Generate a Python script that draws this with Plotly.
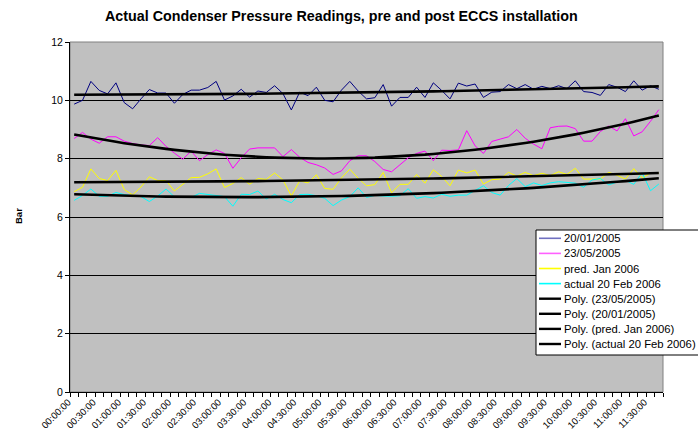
import numpy as np
import plotly.graph_objects as go

times = [
    "00:00:00", "00:10:00", "00:20:00", "00:30:00", "00:40:00", "00:50:00",
    "01:00:00", "01:10:00", "01:20:00", "01:30:00", "01:40:00", "01:50:00",
    "02:00:00", "02:10:00", "02:20:00", "02:30:00", "02:40:00", "02:50:00",
    "03:00:00", "03:10:00", "03:20:00", "03:30:00", "03:40:00", "03:50:00",
    "04:00:00", "04:10:00", "04:20:00", "04:30:00", "04:40:00", "04:50:00",
    "05:00:00", "05:10:00", "05:20:00", "05:30:00", "05:40:00", "05:50:00",
    "06:00:00", "06:10:00", "06:20:00", "06:30:00", "06:40:00", "06:50:00",
    "07:00:00", "07:10:00", "07:20:00", "07:30:00", "07:40:00", "07:50:00",
    "08:00:00", "08:10:00", "08:20:00", "08:30:00", "08:40:00", "08:50:00",
    "09:00:00", "09:10:00", "09:20:00", "09:30:00", "09:40:00", "09:50:00",
    "10:00:00", "10:10:00", "10:20:00", "10:30:00", "10:40:00", "10:50:00",
    "11:00:00", "11:10:00", "11:20:00", "11:30:00", "11:40:00",
]

jan2005 = [
    9.87, 10.0, 10.65, 10.34, 10.22, 10.6, 9.92, 9.71, 10.05, 10.37, 10.25, 10.25, 9.9, 10.2, 10.35,
    10.35, 10.44, 10.65, 10.01, 10.15, 10.38, 10.11, 10.32, 10.27, 10.5, 10.23, 9.67, 10.28, 10.16,
    10.45, 10.0, 9.95, 10.35, 10.65, 10.32, 10.05, 10.09, 10.54, 9.8, 10.1, 10.1, 10.45, 10.1,
    10.6, 10.34, 10.05, 10.59, 10.49, 10.56, 10.1, 10.28, 10.3, 10.54, 10.4, 10.54, 10.38, 10.48,
    10.4, 10.5, 10.4, 10.67, 10.3, 10.27, 10.17, 10.54, 10.45, 10.3, 10.67, 10.35, 10.5, 10.38,
]

may2005 = [
    8.69, 8.9, 8.67, 8.53, 8.75, 8.75, 8.6, 8.52, 8.47, 8.45, 8.72, 8.42, 8.19, 7.98, 8.26,
    7.93, 8.14, 8.3, 8.18, 7.67, 8.03, 8.33, 8.37, 8.37, 8.37, 8.07, 8.31, 8.05, 7.87,
    7.79, 7.68, 7.46, 7.58, 7.93, 8.1, 8.1, 7.9, 7.63, 7.55, 7.79, 8.03, 8.18, 8.26,
    7.93, 8.29, 8.28, 8.3, 8.96, 8.44, 8.18, 8.59, 8.67, 8.75, 9.0, 8.7, 8.5, 8.34,
    9.06, 9.11, 9.12, 9.03, 8.6, 8.6, 8.93, 9.12, 8.95, 9.37, 8.78, 8.92, 9.28, 9.68,
]

pred2006 = [
    6.87, 7.02, 7.65, 7.32, 7.25, 7.6, 6.94, 6.76, 7.03, 7.38, 7.25, 7.25, 6.89, 7.12, 7.35,
    7.36, 7.48, 7.65, 7.01, 7.15, 7.35, 7.12, 7.32, 7.29, 7.51, 7.27, 6.72, 7.24, 7.17,
    7.45, 6.98, 6.95, 7.34, 7.64, 7.33, 7.07, 7.11, 7.53, 6.83, 7.12, 7.12, 7.46, 7.16,
    7.62, 7.39, 7.07, 7.61, 7.51, 7.61, 7.13, 7.28, 7.3, 7.53, 7.4, 7.53, 7.42, 7.5,
    7.42, 7.55, 7.46, 7.67, 7.3, 7.3, 7.3, 7.53, 7.43, 7.3, 7.66, 7.34, 7.5, 7.5,
]

feb2006 = [
    6.57, 6.74, 6.96, 6.71, 6.71, 6.84, 6.77, 6.72, 6.7, 6.53, 6.72, 6.96, 6.69, 6.68, 6.67,
    6.81, 6.77, 6.72, 6.7, 6.37, 6.78, 6.77, 6.89, 6.62, 6.78, 6.6, 6.49, 6.77, 6.78,
    6.73, 6.64, 6.39, 6.58, 6.7, 7.0, 6.67, 6.74, 6.72, 6.71, 6.73, 6.97, 6.64, 6.7,
    6.65, 6.78, 6.71, 6.75, 6.75, 6.9, 7.07, 6.84, 6.75, 7.08, 7.32, 7.04, 7.17, 7.08,
    7.17, 7.21, 7.19, 7.16, 7.02, 7.27, 7.32, 7.1, 7.2, 7.26, 7.12, 7.52, 6.9, 7.13,
]

series_names = ["20/01/2005", "23/05/2005", "pred. Jan 2006", "actual 20 Feb 2006"]
series_colors = ["#000080", "#FF00FF", "#FFFF00", "#00FFFF"]
legend_colors = ["#7070C0", "#FF60FF", "#FFFF00", "#00FFFF"]
series_values = [jan2005, may2005, pred2006, feb2006]
trend_order = [1, 0, 2, 3]  # legend order of the polynomial trendlines

FONT = "Arial, Liberation Sans, sans-serif"

# plot-area geometry in pixels (for converting the legend box to paper coords)
PL, PR, PT, PB = 70, 663, 42, 392
PW, PH = PR - PL, PB - PT


def px(xpix):
    return (xpix - PL) / PW


def py(ypix):
    return (PB - ypix) / PH


x = list(range(len(times)))
xn = np.array(x, dtype=float) + 1.0

fig = go.Figure()
for name, color, vals in zip(series_names, series_colors, series_values):
    fig.add_trace(go.Scatter(x=x, y=vals, mode="lines", name=name,
                             line=dict(color=color, width=1), showlegend=False))

trend_names = []
for k in trend_order:
    coef = np.polyfit(xn, np.array(series_values[k]), 2)
    trend = np.polyval(coef, xn)
    nm = "Poly. (" + series_names[k] + ")"
    trend_names.append(nm)
    fig.add_trace(go.Scatter(x=x, y=trend, mode="lines", name=nm,
                             line=dict(color="#000000", width=2.6), showlegend=False))

# legend drawn as a box with line samples and real text
leg_names = series_names + trend_names
leg_colors = legend_colors + ["#000000"] * len(trend_names)
leg_widths = [1.6] * len(series_names) + [2.4] * len(trend_names)
shapes = [
    dict(type="rect", xref="paper", yref="paper", x0=0, x1=1, y0=0, y1=1,
         line=dict(color="#808080", width=1), layer="below"),
    dict(type="rect", xref="paper", yref="paper", x0=px(536), x1=px(720),
         y0=py(355), y1=py(230), line=dict(color="#000000", width=1),
         fillcolor="#FFFFFF", layer="above"),
]
annotations = [dict(text="<b>Bar</b>", xref="paper", yref="paper",
                    x=px(18), y=py(216), xanchor="center", yanchor="middle",
                    textangle=-90, showarrow=False,
                    font=dict(family=FONT, size=9.5))]
for i, (nm, col, w) in enumerate(zip(leg_names, leg_colors, leg_widths)):
    yc = 238.3 + i * 15.1
    shapes.append(dict(type="line", xref="paper", yref="paper",
                       x0=px(539), x1=px(561), y0=py(yc), y1=py(yc),
                       line=dict(color=col, width=w), layer="above"))
    annotations.append(dict(text=nm, xref="paper", yref="paper", x=px(562), y=py(yc),
                            xanchor="left", yanchor="middle", showarrow=False,
                            font=dict(family=FONT, size=11.3, color="#000000")))

fig.update_layout(
    width=698, height=436,
    margin=dict(l=PL, r=698 - PR, t=PT, b=436 - PB),
    paper_bgcolor="#FFFFFF",
    plot_bgcolor="#C0C0C0",
    font=dict(family=FONT, size=10, color="#000000"),
    title=dict(text="<b>Actual Condenser Pressure Readings, pre and post ECCS installation</b>",
               x=105 / 698, xanchor="left", y=1 - 16 / 436, yanchor="middle",
               font=dict(family=FONT, size=14.3, color="#000000")),
    showlegend=False,
    xaxis=dict(range=[-0.5, len(times) - 0.5], tickmode="array",
               tickvals=x[::3], ticktext=times[::3], tickangle=-45,
               ticks="", showgrid=False, zeroline=False,
               showline=True, linecolor="#000000", linewidth=1,
               tickfont=dict(family=FONT, size=9.5), ticklabelshift=-6,
               minor=dict(tick0=-0.5, dtick=1, ticks="outside", ticklen=4,
                          tickcolor="#000000", tickwidth=1, showgrid=False),
               automargin=False, fixedrange=True),
    yaxis=dict(range=[0, 12], dtick=2, tick0=0, ticks="outside", ticklen=4,
               tickcolor="#000000", showgrid=True, gridcolor="#000000", gridwidth=1,
               zeroline=False, showline=True, linecolor="#000000", linewidth=1,
               tickfont=dict(family=FONT, size=10.5), automargin=False, fixedrange=True),
    annotations=annotations,
    shapes=shapes,
)

fig.write_html("out.html", config={"displayModeBar": False},
               post_script="document.body.style.margin='0';")
